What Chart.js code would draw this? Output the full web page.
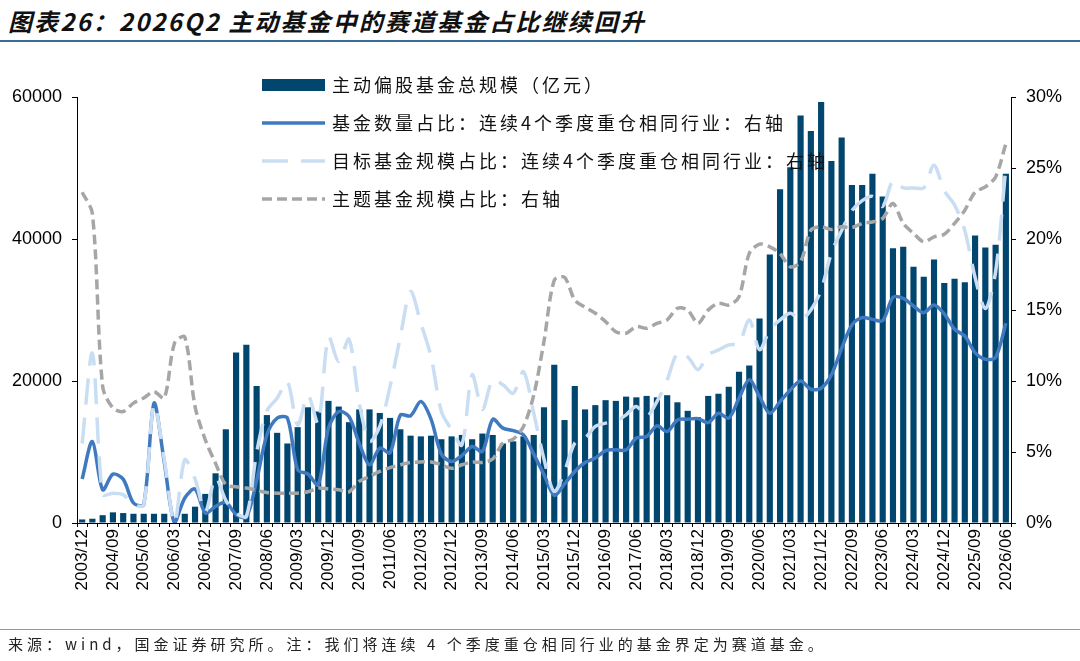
<!DOCTYPE html>
<html><head><meta charset="utf-8">
<script src="https://cdn.jsdelivr.net/npm/chart.js@4.4.1/dist/chart.umd.min.js"></script>
<style>
html,body{margin:0;padding:0;background:#fff;width:1080px;height:661px;overflow:hidden;}
#wrap{position:relative;width:1080px;height:661px;}
#title{position:absolute;left:8px;top:3px;font:italic bold 24px "Noto Sans CJK SC";letter-spacing:2.1px;color:#111;white-space:nowrap;}
#tline{position:absolute;left:0;top:40px;width:1080px;height:2px;background:#3a6c98;}
#fline{position:absolute;left:0;top:629px;width:1080px;height:1px;background:#7f9bb8;}
#foot{position:absolute;left:8px;top:633px;font:15px "Noto Sans CJK SC";letter-spacing:4px;color:#222;white-space:nowrap;}
canvas{position:absolute;left:0;top:0;}
</style></head>
<body><div id="wrap">
<div id="title">图表26：2026Q2 主动基金中的赛道基金占比继续回升</div>
<div id="tline"></div>
<canvas id="c" width="1080" height="661"></canvas>
<div id="fline"></div>
<div id="foot">来源：wind，国金证券研究所。注：我们将连续 4 个季度重仓相同行业的基金界定为赛道基金。</div>
</div>
<script>
const quarters = [
'2003/12','2004/03','2004/06','2004/09','2004/12','2005/03','2005/06','2005/09','2005/12',
'2006/03','2006/06','2006/09','2006/12','2007/03','2007/06','2007/09','2007/12',
'2008/03','2008/06','2008/09','2008/12','2009/03','2009/06','2009/09','2009/12',
'2010/03','2010/06','2010/09','2010/12','2011/03','2011/06','2011/09','2011/12',
'2012/03','2012/06','2012/09','2012/12','2013/03','2013/06','2013/09','2013/12',
'2014/03','2014/06','2014/09','2014/12','2015/03','2015/06','2015/09','2015/12',
'2016/03','2016/06','2016/09','2016/12','2017/03','2017/06','2017/09','2017/12',
'2018/03','2018/06','2018/09','2018/12','2019/03','2019/06','2019/09','2019/12',
'2020/03','2020/06','2020/09','2020/12','2021/03','2021/06','2021/09','2021/12',
'2022/03','2022/06','2022/09','2022/12','2023/03','2023/06','2023/09','2023/12',
'2024/03','2024/06','2024/09','2024/12','2025/03','2025/06','2025/09','2025/12',
'2026/03','2026/06'];

const fundSize = [
500,600,1100,1500,1400,1300,1300,1300,1300,
null,1300,2300,4100,7000,13200,24000,25100,
19300,15200,12700,11200,13500,16300,15700,17200,
16400,14200,16000,16000,15500,14800,13200,12300,
12200,12300,11800,12200,12400,11800,12600,12400,
11200,11500,12200,12400,16300,22300,14500,19300,
16000,16600,17300,17200,17800,17700,17900,17700,
18000,17000,15800,14900,17900,18200,19200,21300,
22200,28800,37800,47000,50100,57400,55200,59300,
51000,54300,47600,47600,49200,46000,38700,38900,
36100,34700,37100,33800,34400,33900,40500,38800,
39200,49200];

const countShare = [
3.1,5.74,2.34,3.44,3.09,1.41,1.3,8.44,4.3,
0,1.76,2.39,0.7,1.17,1.45,0.6,0.4,
3.0,6.2,7.38,7.38,3.75,3.45,2.69,6.68,
7.85,7.5,5.6,4.1,5.27,4.95,7.6,7.55,
8.55,7.3,4.85,4.33,4.75,5.39,5.04,7.3,
6.68,6.5,6.2,4.85,3.4,1.95,2.75,3.63,
4.26,4.57,5.1,5.15,5.15,5.98,6.09,6.84,
6.44,7.26,7.31,7.35,7.07,7.73,7.38,8.79,
10.08,8.9,7.73,8.55,9.37,10.0,9.42,9.49,
10.43,12.3,13.94,14.46,14.34,14.25,15.89,15.82,
15.28,14.81,15.35,14.72,13.64,13.17,12.0,11.53,
11.67,14.06];

const targetShare = [
5.6,11.95,2.0,2.1,2.0,1.29,1.29,8.3,4.5,
0,4.45,3.1,0.8,3.2,1.6,0.7,0.47,
4.95,7.9,8.79,9.96,6.9,9.0,7.03,13.1,
11.37,12.94,8.44,5.74,6.8,9.6,13.1,16.3,
14.06,11.7,7.85,6.56,5.5,10.43,8.0,10.08,
9.73,9.14,10.66,7.73,4.5,2.22,3.63,5.63,
5.98,6.8,7.03,7.15,7.62,8.2,7.5,8.55,
10.08,11.95,11.7,10.8,11.84,12.19,12.54,12.66,
14.3,12.2,13.6,14.3,14.77,14.3,15.0,16.4,
19.0,20.6,22.0,22.7,23.0,22.3,24.1,23.6,
23.6,23.6,25.2,23.4,22.4,20.6,17.3,15.1,
17.7,25.1];

const themeShare = [
23.3,21.8,9.6,8.1,7.85,8.44,8.8,9.25,8.8,
12.66,13.1,8.2,5.86,4.2,2.69,2.55,2.46,
2.3,2.15,2.1,2.1,2.1,2.2,2.46,2.4,
2.34,2.2,2.93,3.28,3.63,3.9,4.1,4.26,
4.3,4.3,4.1,3.85,4.1,4.3,4.26,4.5,
5.63,5.9,6.8,9.0,12.8,17.1,17.3,15.7,
15.2,14.77,14.18,13.47,13.36,13.83,13.71,14.06,
14.3,15.12,15.0,14.06,15.0,15.47,15.35,15.93,
18.98,19.64,19.45,18.98,18.04,18.4,20.62,20.86,
20.67,20.86,20.8,21.1,21.2,21.45,22.5,21.1,
20.4,19.8,20.15,20.34,21.1,22.03,23.3,23.67,
24.37,26.72];

const seriesNames = [
'主动偏股基金总规模（亿元）',
'基金数量占比：连续4个季度重仓相同行业：右轴',
'目标基金规模占比：连续4个季度重仓相同行业：右轴',
'主题基金规模占比：右轴'];

const leftAxis = {min:0, max:60000, step:20000};
const rightAxis = {min:0, max:30, step:5};

const legendPlugin = {
  id:'customLegend',
  afterDraw(chart){
    const ctx = chart.ctx;
    const ds = chart.data.datasets;
    const x0 = 262, x1 = 325, tx = 332;
    const rows = [85, 123, 161, 199];
    ctx.save();
    ds.forEach((d,k)=>{
      const y = rows[k];
      if (d.type === 'bar') {
        ctx.fillStyle = d.backgroundColor;
        ctx.fillRect(x0, y-6, x1-x0, 12);
      } else {
        ctx.strokeStyle = d.borderColor;
        ctx.lineWidth = d.borderWidth;
        ctx.setLineDash(d.borderDash || []);
        ctx.beginPath(); ctx.moveTo(x0, y); ctx.lineTo(x1, y); ctx.stroke();
        ctx.setLineDash([]);
      }
      ctx.fillStyle = '#111';
      ctx.font = '18px "Noto Sans CJK SC"';
      try { ctx.letterSpacing = '3px'; } catch(e) {}
      ctx.textBaseline = 'middle';
      ctx.textAlign = 'left';
      ctx.fillText(d.label, tx, y);
      try { ctx.letterSpacing = '0px'; } catch(e) {}
    });
    ctx.restore();
  }
};

const tickFont = {family:'"Liberation Sans", Arial, sans-serif', size:18};

new Chart(document.getElementById('c'), {
  data: {
    labels: quarters,
    datasets: [
      {type:'bar', label:seriesNames[0], data:fundSize, yAxisID:'y',
       backgroundColor:'#00466f', barPercentage:0.6, categoryPercentage:1, order:4},
      {type:'line', label:seriesNames[1], data:countShare, yAxisID:'y1',
       borderColor:'#3f7ac0', borderWidth:3.5, pointRadius:0, tension:0.3, order:3},
      {type:'line', label:seriesNames[2], data:targetShare, yAxisID:'y1',
       borderColor:'#c9def2', borderWidth:3.5, borderDash:[26,13], pointRadius:0, tension:0.3, order:2},
      {type:'line', label:seriesNames[3], data:themeShare, yAxisID:'y1',
       borderColor:'#a6a6a6', borderWidth:3.5, borderDash:[10,5], pointRadius:0, tension:0.3, order:1}
    ]
  },
  options: {
    responsive:false,
    animation:false,
    devicePixelRatio:1,
    layout:{padding:{top:97, left:0, right:0, bottom:0}},
    plugins:{legend:{display:false}, tooltip:{enabled:false}, title:{display:false}},
    scales:{
      x:{
        type:'category', offset:true,
        grid:{display:true, offset:true, drawOnChartArea:false, drawTicks:true, tickLength:4, color:'#000', lineWidth:1},
        border:{display:true, color:'#000', width:1},
        ticks:{autoSkip:false, minRotation:90, maxRotation:90, padding:2, color:'#000',
               font:{family:'"Liberation Sans", Arial, sans-serif', size:17},
               callback:(v,i)=> (i%3===0 ? quarters[i] : '')},
        afterFit:(s)=>{ s.height = 138; }
      },
      y:{
        position:'left', min:leftAxis.min, max:leftAxis.max,
        grid:{display:true, drawOnChartArea:false, drawTicks:true, tickLength:5, color:'#000'},
        border:{display:true, color:'#000', width:1},
        ticks:{stepSize:leftAxis.step, padding:10, color:'#000', font:tickFont, callback:(v)=> String(v)},
        afterFit:(s)=>{ s.width = 77; }
      },
      y1:{
        position:'right', min:rightAxis.min, max:rightAxis.max,
        grid:{display:true, drawOnChartArea:false, drawTicks:true, tickLength:5, color:'#000'},
        border:{display:true, color:'#000', width:1},
        ticks:{stepSize:rightAxis.step, padding:10, color:'#000', font:tickFont, callback:(v)=> v + '%'},
        afterFit:(s)=>{ s.width = 69; }
      }
    }
  },
  plugins:[legendPlugin]
});
</script>
</body></html>
